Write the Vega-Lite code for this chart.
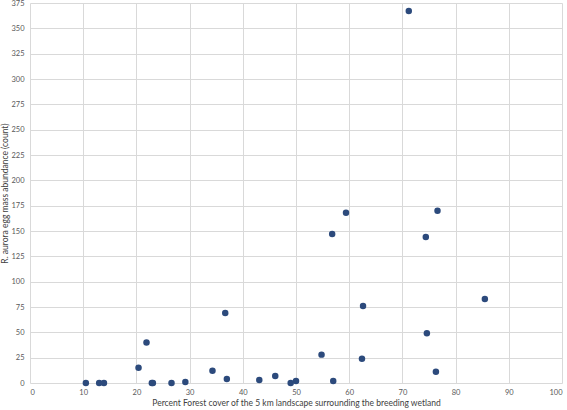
{
  "$schema": "https://vega.github.io/schema/vega-lite/v6.json",
  "width": 532,
  "height": 380,
  "autosize": "none",
  "padding": {"left": 30, "top": 3, "right": 5, "bottom": 27},
  "background": "white",
  "config": {
    "view": {"stroke": null},
    "font": "Lato",
    "axis": {
      "labelFont": "Lato",
      "titleFont": "Lato",
      "labelFontSize": 7.5,
      "titleFontSize": 8.5,
      "labelColor": "#595959",
      "titleColor": "#404040",
      "titleFontWeight": "normal",
      "gridColor": "#d9d9d9",
      "gridWidth": 1,
      "domain": false,
      "ticks": false
    }
  },
  "data": {
    "values": [
      {"forest": 10.5, "count": 0},
      {"forest": 13.0, "count": 0},
      {"forest": 13.9, "count": 0},
      {"forest": 20.4, "count": 15},
      {"forest": 21.9, "count": 40},
      {"forest": 22.9, "count": 0},
      {"forest": 23.1, "count": 0},
      {"forest": 26.6, "count": 0},
      {"forest": 29.2, "count": 1},
      {"forest": 34.3, "count": 12},
      {"forest": 36.7, "count": 69},
      {"forest": 37.0, "count": 4},
      {"forest": 43.1, "count": 3},
      {"forest": 46.1, "count": 7},
      {"forest": 49.0, "count": 0},
      {"forest": 50.0, "count": 2},
      {"forest": 54.8, "count": 28},
      {"forest": 56.8, "count": 147},
      {"forest": 57.0, "count": 2},
      {"forest": 59.4, "count": 168},
      {"forest": 62.4, "count": 24},
      {"forest": 62.6, "count": 76},
      {"forest": 71.2, "count": 367},
      {"forest": 74.4, "count": 144},
      {"forest": 74.6, "count": 49},
      {"forest": 76.3, "count": 11},
      {"forest": 76.6, "count": 170},
      {"forest": 85.5, "count": 83}
    ]
  },
  "mark": {"type": "point", "filled": true, "opacity": 1, "size": 42, "color": "#2C4A7C"},
  "encoding": {
    "x": {
      "field": "forest",
      "type": "quantitative",
      "scale": {"domain": [0, 100], "nice": false, "zero": true},
      "axis": {"values": [0,10,20,30,40,50,60,70,80,90,100], "title": "Percent Forest cover of the 5 km landscape surrounding the breeding wetland", "labelPadding": 5, "titlePadding": 3}
    },
    "y": {
      "field": "count",
      "type": "quantitative",
      "scale": {"domain": [0, 375], "nice": false},
      "axis": {"values": [0,25,50,75,100,125,150,175,200,225,250,275,300,325,350,375], "title": "R. aurora  egg mass abundance (count)", "labelPadding": 6, "titlePadding": 1}
    }
  }
}
